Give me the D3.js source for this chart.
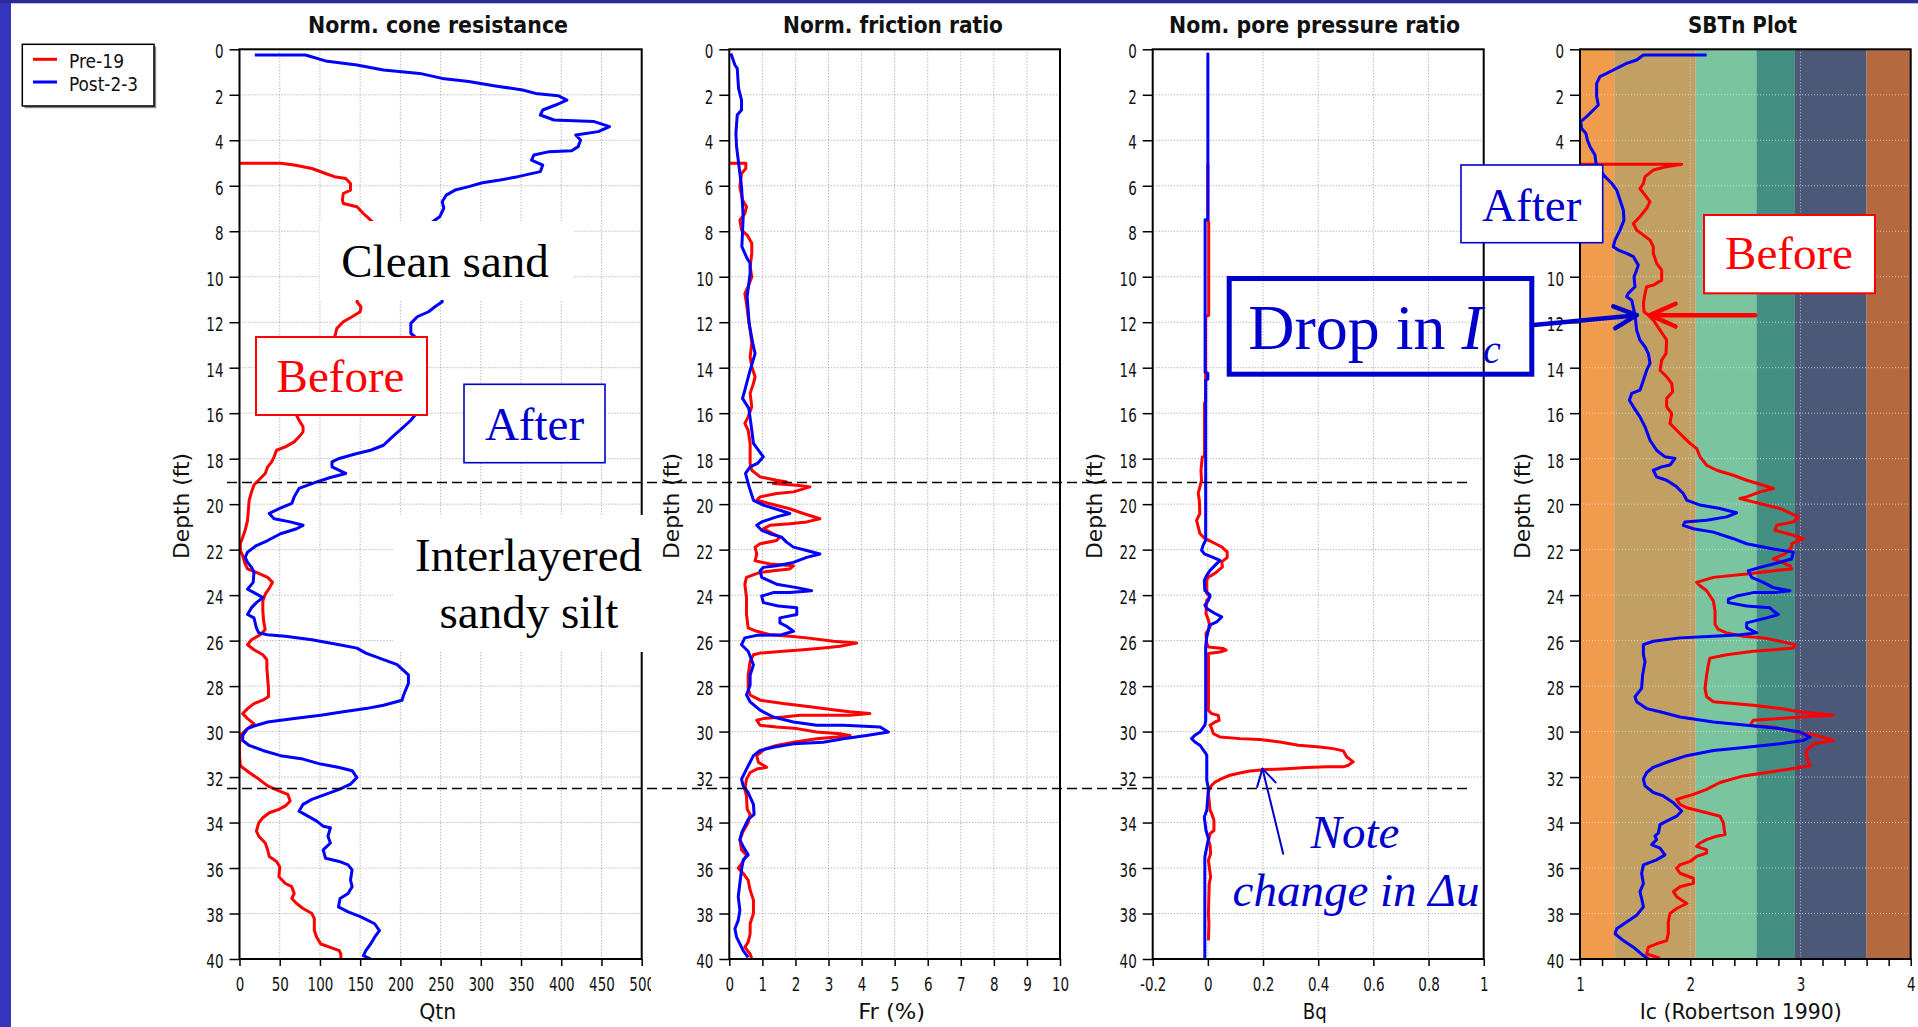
<!DOCTYPE html>
<html>
<head>
<meta charset="utf-8">
<script src="https://cdn.jsdelivr.net/npm/d3@7"></script>
<style>
  html, body { margin: 0; padding: 0; background: #ffffff; overflow: hidden; }
  svg { display: block; }
</style>
</head>
<body>
<svg id="chart" width="1918" height="1027"></svg>
<script>
// ---------------------------------------------------------------
// CPT profiles before (Pre-19) and after (Post-2-3) treatment.
// Each series is a list of [depth (ft), value] pairs.
// ---------------------------------------------------------------
const seriesNames = ["Pre-19", "Post-2-3"];

const depthTicks = [0, 2, 4, 6, 8, 10, 12, 14, 16, 18, 20, 22, 24, 26, 28, 30, 32, 34, 36, 38, 40];
const qtnTicks = [0, 50, 100, 150, 200, 250, 300, 350, 400, 450, 500];
const frTicks = [0, 1, 2, 3, 4, 5, 6, 7, 8, 9, 10];
const bqTicks = [-0.2, 0, 0.2, 0.4, 0.6, 0.8, 1];
const icTicks = [1, 2, 3, 4];
const icMinorTicks = [1.2, 1.4, 1.6, 1.8, 2.2, 2.4, 2.6, 2.8, 3.2, 3.4, 3.6, 3.8];

// Soil behaviour type zone limits on the Ic axis
const sbtBounds = [1, 1.31, 2.05, 2.60, 2.95, 3.60, 4];

// Depths of the layer boundaries marked across the profiles
const layerDepths = [19.05, 32.5];

// Normalized cone resistance Qtn
const qtnPre = [[5.01,0],[5.01,51],[5.09,68],[5.24,90],[5.46,107],[5.60,118],[5.68,132],[5.90,138],[6.19,138],[6.34,129],[6.63,128],[6.78,129],[6.92,146],[7.22,154],[7.51,163],[7.58,165],
  [11.10,146],[11.32,151],[11.54,150],[11.76,140],[11.98,129],[12.27,121],[12.57,119],
  [16.09,71],[16.31,74],[16.60,79],[16.82,79],[17.04,74],[17.26,68],[17.48,57],[17.63,46],[17.92,43],[18.14,40],[18.36,35],[18.65,32],[18.94,24],[19.16,18],[19.46,15],[19.83,12],[20.27,11],[20.71,10],[21.15,7],[21.45,4],[21.74,1],[22.04,1],[22.26,4],[22.63,7],[22.85,10],[23.00,21],[23.22,35],[23.44,41],[23.70,37],[23.96,32],[24.26,29],[24.70,29],[25.15,30],[25.51,32],[25.74,26],[25.96,15],[26.18,10],[26.40,18],[26.62,29],[26.84,34],[27.21,34],[27.66,35],[28.10,36],[28.47,36],[28.62,29],[28.77,18],[28.99,10],[29.21,4],[29.43,10],[29.65,18],[29.87,10],[30.17,1],[30.61,0],[31.06,0],[31.50,1],[31.80,12],[32.09,24],[32.39,35],[32.61,49],[32.76,60],[33.05,63],[33.27,57],[33.42,49],[33.57,37],[33.79,29],[34.01,24],[34.38,21],[34.60,24],[34.90,32],[35.20,35],[35.49,37],[35.71,46],[35.94,50],[36.38,49],[36.68,57],[36.82,65],[37.12,68],[37.34,65],[37.56,71],[37.78,79],[38.00,90],[38.23,93],[38.75,93],[39.04,96],[39.34,101],[39.49,113],[39.63,124],[39.78,126],[40.0,126]];

const qtnPost = [[0.25,19],[0.25,82],[0.51,107],[0.69,146],[0.91,179],[1.06,224],[1.28,252],[1.42,285],[1.61,318],[1.79,352],[1.94,368],[2.04,396],[2.23,407],[2.45,393],[2.67,377],[2.89,374],[3.11,391],[3.18,441],[3.40,460],[3.62,446],[3.77,418],[3.99,424],[4.28,421],[4.46,413],[4.50,385],[4.65,366],[4.87,363],[5.09,377],[5.38,374],[5.60,346],[5.75,324],[5.87,302],[6.04,285],[6.19,268],[6.41,257],[6.70,252],[6.99,254],[7.36,249],[7.58,240],
  [11.10,252],[11.32,243],[11.54,235],[11.76,221],[12.05,213],[12.49,213],[12.64,218],
  [16.09,218],[16.31,213],[16.67,202],[17.04,190],[17.41,179],[17.63,163],[17.77,146],[17.99,124],[18.14,115],[18.36,115],[18.65,132],[18.83,113],[19.02,96],[19.31,74],[19.68,68],[19.97,65],[20.19,50],[20.41,37],[20.64,43],[20.78,63],[20.93,79],[21.08,71],[21.30,51],[21.60,35],[21.82,21],[22.11,10],[22.34,7],[22.56,10],[22.78,15],[23.00,18],[23.44,17],[23.74,10],[23.89,18],[24.11,29],[24.33,21],[24.55,15],[24.85,10],[25.00,18],[25.44,21],[25.66,24],[25.74,35],[25.81,57],[25.96,90],[26.18,124],[26.33,146],[26.55,157],[26.84,179],[27.06,196],[27.51,210],[27.88,210],[28.39,204],[28.62,202],[28.84,179],[28.99,157],[29.13,129],[29.28,101],[29.43,68],[29.58,35],[29.76,18],[29.87,10],[30.17,4],[30.39,4],[30.61,12],[30.83,29],[31.06,51],[31.21,79],[31.43,101],[31.58,124],[31.72,140],[32.02,146],[32.31,138],[32.54,124],[32.76,107],[32.98,90],[33.20,79],[33.50,74],[33.72,85],[33.94,96],[34.16,104],[34.23,113],[34.60,110],[34.90,113],[35.20,104],[35.57,107],[35.71,124],[35.86,135],[36.08,140],[36.53,138],[36.82,140],[37.12,135],[37.34,125],[37.71,123],[37.93,135],[38.15,151],[38.45,168],[38.75,174],[39.04,168],[39.34,163],[39.63,157],[39.85,154],[40.0,163]];

// Normalized friction ratio Fr (%)
const frPre = [[5.01,0.02],[5.01,0.50],[5.24,0.50],[5.46,0.37],[6.04,0.32],[6.63,0.40],[6.92,0.52],[7.22,0.47],[7.51,0.32],[7.95,0.37],[8.17,0.54],[8.53,0.68],[8.98,0.68],[9.56,0.63],[10.00,0.68],[10.44,0.57],[10.74,0.47],[11.17,0.52],[11.76,0.57],[12.35,0.63],[12.93,0.68],[13.52,0.63],[13.96,0.68],[14.40,0.78],[14.69,0.73],[15.13,0.63],[15.72,0.68],[16.16,0.57],[16.45,0.47],[16.75,0.57],[17.33,0.63],[18.21,0.63],[18.51,0.68],[18.80,0.93],[18.95,1.43],[19.02,1.73],[19.09,1.33],[19.17,2.04],[19.24,2.44],[19.46,1.94],[19.53,1.43],[19.68,0.93],[19.83,0.83],[19.97,1.2],[20.19,1.8],[20.41,2.24],[20.64,2.74],[20.78,2.34],[20.86,1.83],[20.93,1.23],[21.08,1.03],[21.30,1.33],[21.45,1.53],[21.60,1.43],[21.74,0.93],[21.89,0.78],[22.19,0.83],[22.49,0.78],[22.63,1.23],[22.71,1.94],[22.85,1.83],[22.93,1.33],[23.00,0.93],[23.22,0.52],[23.52,0.47],[24.11,0.52],[24.85,0.52],[25.44,0.57],[25.59,0.83],[25.74,1.23],[25.81,1.83],[25.88,2.34],[26.03,3.15],[26.11,3.85],[26.25,3.35],[26.33,2.84],[26.40,2.24],[26.47,1.63],[26.55,0.93],[26.62,0.73],[26.92,0.63],[27.51,0.57],[28.10,0.57],[28.39,0.63],[28.62,0.93],[28.77,1.63],[28.91,2.44],[29.06,3.25],[29.13,3.65],[29.21,4.25],[29.28,3.65],[29.28,2.14],[29.36,1.63],[29.43,1.03],[29.50,0.83],[29.72,0.93],[29.80,1.43],[29.87,2.04],[30.02,2.64],[30.10,3.35],[30.17,3.65],[30.24,3.25],[30.32,2.64],[30.47,1.94],[30.61,1.43],[30.76,1.08],[31.06,0.83],[31.35,0.88],[31.57,1.13],[31.65,0.83],[31.80,0.63],[32.09,0.52],[32.54,0.47],[32.83,0.52],[33.42,0.54],[33.64,0.63],[34.01,0.57],[34.38,0.42],[34.76,0.32],[35.20,0.37],[35.42,0.52],[35.71,0.42],[36.01,0.27],[36.23,0.42],[36.53,0.57],[36.97,0.63],[37.41,0.73],[38.00,0.73],[38.45,0.63],[38.89,0.63],[39.26,0.57],[39.48,0.47],[39.78,0.63],[40.0,0.68]];

const frPost = [[0.18,0.05],[0.69,0.17],[0.84,0.24],[1.72,0.28],[2.23,0.37],[2.67,0.37],[2.89,0.24],[3.70,0.20],[4.28,0.22],[4.87,0.27],[6.04,0.37],[7.36,0.42],[8.68,0.38],[9.20,0.54],[9.41,0.63],[9.85,0.63],[10.88,0.54],[12.06,0.60],[12.93,0.71],[13.38,0.78],[14.11,0.63],[14.99,0.47],[15.35,0.40],[15.79,0.59],[16.75,0.68],[17.33,0.73],[17.92,1.03],[18.21,0.85],[18.36,0.63],[18.65,0.49],[19.24,0.60],[19.83,0.73],[20.04,1.03],[20.27,1.53],[20.41,1.83],[20.56,1.43],[20.78,0.98],[20.93,0.83],[21.15,0.98],[21.30,1.23],[21.45,1.58],[21.67,1.73],[21.89,1.94],[22.04,2.34],[22.19,2.74],[22.34,2.34],[22.56,1.94],[22.71,1.43],[22.78,1.03],[22.93,0.93],[23.22,0.98],[23.52,1.43],[23.67,2.04],[23.81,2.49],[23.89,1.83],[23.89,1.33],[24.04,0.98],[24.33,1.03],[24.48,1.48],[24.56,2.04],[24.85,2.04],[25.00,1.53],[25.22,1.53],[25.37,1.73],[25.59,1.94],[25.74,1.58],[25.77,0.83],[25.88,0.47],[26.18,0.37],[26.47,0.57],[27.06,0.73],[27.51,0.63],[27.95,0.63],[28.39,0.52],[28.69,0.63],[29.06,0.93],[29.36,1.33],[29.58,1.94],[29.72,2.64],[29.72,3.45],[29.80,4.56],[30.02,4.81],[30.17,4.15],[30.32,3.45],[30.47,2.84],[30.54,1.94],[30.69,1.33],[30.83,0.93],[31.06,0.73],[31.65,0.52],[32.09,0.37],[32.39,0.42],[32.68,0.57],[33.20,0.73],[33.64,0.75],[33.86,0.57],[34.46,0.37],[34.76,0.32],[35.05,0.42],[35.42,0.57],[35.64,0.42],[36.08,0.37],[36.67,0.32],[37.26,0.27],[37.86,0.32],[38.30,0.27],[38.67,0.17],[39.04,0.22],[39.63,0.42],[39.93,0.57]];

// Normalized pore pressure ratio Bq
const bqPre = [[5.0,0.0],[7.55,0.0],[7.6,0.003],[11.7,0.003],[11.75,-0.008],[15.5,-0.008],[15.55,-0.012],[17.9,-0.012],[17.92,-0.02],[18.5,-0.025],[18.95,-0.023],[19.24,-0.029],[19.53,-0.035],[19.83,-0.031],[20.41,-0.029],[20.71,-0.041],[21.0,-0.035],[21.29,-0.029],[21.51,-0.011],[21.58,0.002],[21.73,0.026],[21.88,0.050],[22.10,0.070],[22.35,0.070],[22.54,0.050],[22.76,0.053],[22.98,0.032],[23.13,0.014],[23.20,0.002],[23.35,-0.004],[23.93,-0.004],[24.08,0.008],[24.23,-0.004],[24.81,-0.007],[25.10,0.002],[25.40,0.008],[25.69,-0.007],[26.13,-0.004],[26.28,0.002],[26.35,0.056],[26.42,0.066],[26.50,0.044],[26.57,0.002],[29.07,0.002],[29.21,0.014],[29.29,0.038],[29.51,0.041],[29.58,0.026],[29.72,0.008],[29.87,0.014],[30.09,0.020],[30.24,0.044],[30.31,0.116],[30.35,0.189],[30.46,0.261],[30.60,0.328],[30.68,0.406],[30.75,0.454],[30.85,0.491],[31.11,0.503],[31.33,0.527],[31.48,0.509],[31.55,0.491],[31.55,0.430],[31.58,0.358],[31.63,0.285],[31.67,0.213],[31.73,0.153],[31.82,0.116],[31.92,0.080],[32.07,0.050],[32.22,0.026],[32.36,0.014],[32.51,0.005],[32.73,0.002],[33.46,0.008],[33.61,0.014],[33.90,0.022],[34.35,0.022],[34.49,0.008],[34.78,0.002],[35.0,0.008],[35.37,0.010],[35.66,0.002],[36.39,0.010],[36.69,0.005],[38.01,0.002],[38.45,0.004],[39.18,0.002]];

const bqPost = [[0.15,0.0],[7.5,0.0],[7.5,-0.01],[14.2,-0.01],[14.25,0.0],[14.5,0.0],[14.55,-0.008],[21.59,-0.008],[21.80,-0.017],[22.03,-0.023],[22.20,-0.011],[22.32,0.014],[22.47,0.044],[22.69,0.026],[22.91,0.008],[23.13,-0.004],[23.35,-0.013],[23.79,-0.011],[24.00,0.008],[24.23,0.002],[24.44,-0.011],[24.59,-0.004],[24.81,0.026],[24.96,0.050],[25.18,0.032],[25.33,0.005],[25.55,0.002],[25.84,-0.004],[26.28,-0.008],[29.51,-0.008],[29.72,-0.011],[30.02,-0.029],[30.16,-0.047],[30.31,-0.059],[30.46,-0.047],[30.60,-0.029],[30.90,-0.011],[31.04,-0.004],[32.14,-0.004],[32.51,0.002],[33.46,-0.004],[33.76,-0.013],[34.34,-0.007],[34.71,0.002],[35.08,-0.004],[35.51,-0.011],[39.99,-0.011]];

// Soil behaviour type index Ic (Robertson 1990)
const icPre = [[5.05,1.0],[5.05,1.922],[5.16,1.786],[5.31,1.665],[5.60,1.590],[5.90,1.575],[6.12,1.544],[6.41,1.590],[6.70,1.635],[6.99,1.605],[7.36,1.544],[7.66,1.484],[7.95,1.514],[8.17,1.575],[8.39,1.635],[8.68,1.665],[8.98,1.665],[9.41,1.696],[9.71,1.741],[10.15,1.741],[10.37,1.665],[10.44,1.605],[10.73,1.590],[11.17,1.575],[11.54,1.581],[11.69,1.620],[11.91,1.665],[12.35,1.726],[12.79,1.786],[13.37,1.780],[13.67,1.741],[14.11,1.726],[14.40,1.786],[14.69,1.832],[15.06,1.841],[15.35,1.786],[15.72,1.786],[16.01,1.832],[16.45,1.816],[16.75,1.877],[17.04,1.937],[17.33,1.998],[17.55,2.058],[17.92,2.089],[18.29,2.149],[18.51,2.240],[18.73,2.391],[18.95,2.512],[19.17,2.663],[19.31,2.754],[19.46,2.633],[19.68,2.512],[19.75,2.451],[19.90,2.572],[20.05,2.693],[20.19,2.814],[20.56,2.981],[20.78,2.935],[20.93,2.784],[21.15,2.769],[21.37,2.935],[21.52,3.026],[21.74,2.920],[21.89,2.920],[22.19,2.860],[22.41,2.754],[22.71,2.905],[22.85,2.920],[22.93,2.754],[23.07,2.512],[23.22,2.210],[23.44,2.058],[23.59,2.089],[23.81,2.149],[24.26,2.210],[24.70,2.225],[25.29,2.225],[25.51,2.255],[25.66,2.330],[25.81,2.482],[25.88,2.663],[26.03,2.814],[26.18,2.950],[26.33,2.935],[26.40,2.754],[26.47,2.572],[26.62,2.330],[26.77,2.179],[27.07,2.164],[27.51,2.149],[28.10,2.134],[28.47,2.149],[28.69,2.210],[28.77,2.391],[28.84,2.572],[28.99,2.814],[29.13,2.996],[29.28,3.298],[29.36,2.996],[29.43,2.814],[29.50,2.572],[29.73,2.542],[29.80,2.754],[30.02,2.966],[30.17,3.147],[30.39,3.298],[30.54,3.117],[30.84,3.056],[31.13,3.056],[31.50,3.087],[31.65,2.905],[31.80,2.693],[31.95,2.482],[32.24,2.270],[32.54,2.149],[32.76,2.028],[32.98,1.877],[33.20,1.907],[33.35,1.968],[33.57,2.149],[33.72,2.270],[34.01,2.300],[34.53,2.315],[34.60,2.240],[34.75,2.149],[34.90,2.089],[35.05,2.058],[35.20,2.149],[35.34,2.149],[35.49,2.058],[35.71,1.998],[35.86,1.907],[36.01,1.877],[36.23,1.907],[36.45,2.028],[36.67,2.028],[36.82,1.907],[37.04,1.847],[37.26,1.877],[37.56,1.968],[37.78,1.877],[38.00,1.816],[38.37,1.801],[38.89,1.801],[39.19,1.786],[39.33,1.695],[39.48,1.620],[39.78,1.605],[39.96,1.726]];

const icPost = [[0.25,2.149],[0.25,1.575],[0.47,1.514],[0.62,1.423],[0.76,1.363],[0.91,1.302],[1.06,1.242],[1.20,1.181],[1.50,1.151],[2.08,1.151],[2.45,1.166],[2.67,1.121],[2.96,1.060],[3.18,1.006],[3.48,1.015],[3.70,1.054],[3.99,1.067],[4.28,1.091],[4.65,1.136],[5.02,1.145],[5.31,1.181],[5.60,1.227],[5.89,1.287],[6.19,1.333],[6.63,1.363],[7.07,1.393],[7.51,1.399],[7.95,1.363],[8.39,1.318],[8.68,1.302],[8.83,1.348],[8.97,1.423],[9.12,1.484],[9.49,1.529],[9.71,1.514],[10.00,1.490],[10.44,1.499],[10.73,1.438],[10.88,1.423],[11.03,1.469],[11.69,1.499],[12.35,1.514],[12.79,1.544],[13.08,1.590],[13.38,1.620],[13.81,1.635],[14.11,1.605],[14.55,1.575],[14.99,1.544],[15.13,1.469],[15.43,1.448],[15.72,1.484],[16.16,1.544],[16.60,1.590],[17.19,1.635],[17.63,1.695],[17.92,1.771],[17.99,1.862],[18.28,1.816],[18.36,1.741],[18.51,1.665],[18.80,1.695],[18.95,1.786],[19.24,1.877],[19.53,1.937],[19.82,1.968],[20.04,2.089],[20.19,2.270],[20.38,2.421],[20.56,2.330],[20.71,2.149],[20.78,1.953],[20.93,1.937],[21.08,2.028],[21.23,2.210],[21.52,2.391],[21.74,2.512],[21.97,2.754],[22.11,2.935],[22.41,2.920],[22.63,2.754],[22.78,2.633],[22.93,2.527],[23.22,2.557],[23.44,2.663],[23.67,2.754],[23.81,2.905],[23.89,2.754],[23.89,2.572],[24.04,2.421],[24.18,2.346],[24.33,2.346],[24.48,2.512],[24.56,2.724],[24.70,2.754],[24.85,2.799],[25.00,2.693],[25.22,2.512],[25.44,2.512],[25.66,2.603],[25.74,2.451],[25.81,2.210],[25.88,1.907],[26.03,1.665],[26.18,1.575],[26.62,1.575],[26.92,1.590],[27.51,1.568],[28.10,1.559],[28.47,1.499],[28.69,1.514],[28.99,1.605],[29.13,1.726],[29.36,1.907],[29.58,2.210],[29.72,2.512],[29.87,2.814],[30.02,2.996],[30.24,3.087],[30.39,3.026],[30.54,2.814],[30.69,2.512],[30.83,2.210],[31.06,1.968],[31.35,1.786],[31.57,1.665],[31.80,1.605],[32.09,1.575],[32.39,1.590],[32.68,1.665],[32.83,1.756],[33.13,1.847],[33.49,1.922],[33.72,1.877],[33.94,1.786],[34.09,1.726],[34.46,1.711],[34.60,1.680],[34.75,1.695],[34.97,1.650],[35.12,1.726],[35.42,1.771],[35.64,1.695],[35.86,1.575],[36.23,1.559],[36.68,1.575],[37.04,1.544],[37.34,1.559],[37.71,1.575],[38.08,1.514],[38.37,1.423],[38.67,1.333],[38.89,1.318],[39.19,1.393],[39.48,1.484],[39.85,1.575],[40.0,1.620]];

// ---------------------------------------------------------------
// Styles and layout
// ---------------------------------------------------------------
const SANS = "'DejaVu Sans Condensed', 'DejaVu Sans', 'Liberation Sans', sans-serif";
const SERIF = "'Liberation Serif', 'Times New Roman', serif";
const PRE_COLOR = "#ff0000";
const POST_COLOR = "#0000ff";
const NOTE_BLUE = "#0000cc";
const SY = 1.35;                         // vertical stretch of the plot lettering
const sbtColors = ["#f09c4c", "#c2a064", "#7ac4a0", "#438f81", "#4b5878", "#b5693e"];

const Y0 = 49.3, Y1 = 959;
const y = d3.scaleLinear().domain([0, 40]).range([Y0, Y1]);

const svg = d3.select("#chart");
const defs = svg.append("defs");

// slide backdrop: blue strips on the left and top edges
svg.append("rect").attr("x", 0).attr("y", 0).attr("width", 1918).attr("height", 1027).attr("fill", "#ffffff");
svg.append("rect").attr("x", 0).attr("y", 0).attr("width", 11).attr("height", 1027).attr("fill", "#3434bc");
svg.append("rect").attr("x", 0).attr("y", 0).attr("width", 1918).attr("height", 3.3).attr("fill", "#2c2c96");

function label(parent, x, yPos, str, o) {
  const t = parent.append("text")
    .attr("transform", `translate(${x},${yPos})${o.rotate ? ` rotate(${o.rotate})` : ""} scale(${o.sx || 1},${o.sy || 1})`)
    .attr("text-anchor", o.anchor || "middle")
    .attr("fill", o.fill || "#111")
    .style("font-family", o.font || SANS)
    .style("font-size", o.size + "px")
    .style("font-weight", o.weight || "normal")
    .style("font-style", o.italic ? "italic" : "normal");
  if (o.font !== SERIF) t.style("font-stretch", "condensed");
  if (o.len) t.attr("textLength", o.len / (o.sx || 1)).attr("lengthAdjust", "spacingAndGlyphs");
  t.text(str);
  return t;
}

const fmtPlain = v => String(v);

const panels = [
  { id: "qtn", title: "Norm. cone resistance", titleCx: 438, titleW: 260,
    xLabel: "Qtn", xLabelCx: 437.7, xLabelW: 37,
    domain: [0, 500], x0: 239.5, x1: 641.7, ticks: qtnTicks, grid: qtnTicks.slice(1, -1),
    pre: qtnPre, post: qtnPost, axisClip: 651 },
  { id: "fr", title: "Norm. friction ratio", titleCx: 893, titleW: 220,
    xLabel: "Fr (%)", xLabelCx: 891.7, xLabelW: 67,
    domain: [0, 10], x0: 729.3, x1: 1060, ticks: frTicks, grid: frTicks.slice(1, -1),
    pre: frPre, post: frPost },
  { id: "bq", title: "Nom. pore pressure ratio", titleCx: 1314.5, titleW: 291,
    xLabel: "Bq", xLabelCx: 1314.7, xLabelW: 24,
    domain: [-0.2, 1], x0: 1152.7, x1: 1483.7, ticks: bqTicks, grid: bqTicks.slice(1, -1),
    pre: bqPre, post: bqPost },
  { id: "ic", title: "SBTn Plot", titleCx: 1742.5, titleW: 109,
    xLabel: "Ic (Robertson 1990)", xLabelCx: 1740.8, xLabelW: 202,
    domain: [1, 4], x0: 1580, x1: 1910.7, ticks: icTicks, minor: icMinorTicks, grid: [2, 3],
    pre: icPre, post: icPost, zones: true }
];

const scales = {};

panels.forEach(p => {
  const x = d3.scaleLinear().domain(p.domain).range([p.x0, p.x1]);
  scales[p.id] = x;
  const g = svg.append("g").attr("class", "panel-" + p.id);

  // plot background
  if (p.zones) {
    g.selectAll("rect.zone").data(sbtColors).join("rect")
      .attr("class", "zone")
      .attr("x", (c, i) => x(sbtBounds[i]))
      .attr("width", (c, i) => x(sbtBounds[i + 1]) - x(sbtBounds[i]))
      .attr("y", Y0).attr("height", Y1 - Y0)
      .attr("fill", c => c);
  } else {
    g.append("rect").attr("x", p.x0).attr("y", Y0).attr("width", p.x1 - p.x0).attr("height", Y1 - Y0).attr("fill", "#fff");
  }

  // dotted grid
  const gridColor = p.zones ? "rgba(225,225,225,0.75)" : "#9a9a9a";
  g.append("g").selectAll("line").data(depthTicks.slice(1, -1)).join("line")
    .attr("x1", p.x0).attr("x2", p.x1).attr("y1", d => y(d)).attr("y2", d => y(d))
    .attr("stroke", gridColor).attr("stroke-width", 1).attr("stroke-dasharray", "1,2");
  g.append("g").selectAll("line").data(p.grid).join("line")
    .attr("x1", d => x(d)).attr("x2", d => x(d)).attr("y1", Y0).attr("y2", Y1)
    .attr("stroke", gridColor).attr("stroke-width", 1).attr("stroke-dasharray", "1,2");

  // profiles
  defs.append("clipPath").attr("id", "clip-" + p.id)
    .append("rect").attr("x", p.x0).attr("y", Y0).attr("width", p.x1 - p.x0).attr("height", Y1 - Y0);
  const line = d3.line().x(d => x(d[1])).y(d => y(d[0]));
  const curves = g.append("g").attr("clip-path", `url(#clip-${p.id})`);
  [[p.pre, PRE_COLOR], [p.post, POST_COLOR]].forEach(([data, color]) => {
    curves.append("path").datum(data).attr("d", line)
      .attr("fill", "none").attr("stroke", color).attr("stroke-width", 3)
      .attr("stroke-linejoin", "round").attr("stroke-linecap", "butt");
  });

  // frame
  g.append("rect").attr("x", p.x0).attr("y", Y0).attr("width", p.x1 - p.x0).attr("height", Y1 - Y0)
    .attr("fill", "none").attr("stroke", "#000").attr("stroke-width", 2);

  // depth axis
  const ga = g.append("g").attr("transform", `translate(${p.x0},0)`)
    .call(d3.axisLeft(y).tickValues(depthTicks).tickSize(10).tickPadding(6).tickFormat(fmtPlain));
  ga.select(".domain").remove();
  ga.selectAll(".tick line").attr("stroke", "#000").attr("stroke-width", 1.5);
  ga.selectAll(".tick text")
    .attr("fill", "#111").attr("dy", null).attr("y", 8.4 / SY).attr("transform", `scale(1,${SY})`)
    .style("font-family", SANS).style("font-size", "15px").style("font-stretch", "condensed");

  // value axis
  let axisHolder = g;
  if (p.axisClip) {
    defs.append("clipPath").attr("id", "axclip-" + p.id)
      .append("rect").attr("x", 0).attr("y", 0).attr("width", p.axisClip).attr("height", 1027);
    axisHolder = g.append("g").attr("clip-path", `url(#axclip-${p.id})`);
  }
  const gb = axisHolder.append("g").attr("transform", `translate(0,${Y1})`)
    .call(d3.axisBottom(x).tickValues(p.ticks).tickSize(7).tickFormat(fmtPlain));
  gb.select(".domain").remove();
  gb.selectAll(".tick line").attr("stroke", "#000").attr("stroke-width", 1.5);
  gb.selectAll(".tick text")
    .attr("fill", "#111").attr("dy", 0).attr("y", 32.5 / SY).attr("transform", `scale(1,${SY})`)
    .style("font-family", SANS).style("font-size", "15px").style("font-stretch", "condensed");
  if (p.minor) {
    const gm = g.append("g").attr("transform", `translate(0,${Y1})`)
      .call(d3.axisBottom(x).tickValues(p.minor).tickSize(7).tickFormat(""));
    gm.select(".domain").remove();
    gm.selectAll(".tick line").attr("stroke", "#000").attr("stroke-width", 1.5);
  }

  // titles
  label(g, p.titleCx, 33.3, p.title, { size: 17, weight: "bold", sy: SY, len: p.titleW });
  label(g, p.xLabelCx, 1019, p.xLabel, { size: 22, len: p.xLabelW });
  label(g, p.x0 - 50.5, 506, "Depth (ft)", { size: 22, rotate: -90, len: 106 });
});

// ---------------------------------------------------------------
// Legend
// ---------------------------------------------------------------
const leg = svg.append("g").attr("class", "legend");
leg.append("rect").attr("x", 24.5).attr("y", 46.5).attr("width", 131.7).attr("height", 61.7).attr("fill", "#8a8a8a");
leg.append("rect").attr("x", 22.3).attr("y", 44.3).attr("width", 131.7).attr("height", 61.7)
  .attr("fill", "#fff").attr("stroke", "#000").attr("stroke-width", 1.5);
[[seriesNames[0], PRE_COLOR, 59.3, 68.3, 55], [seriesNames[1], POST_COLOR, 82, 91.3, 69]].forEach(([name, color, ly, by, w]) => {
  leg.append("line").attr("x1", 33).attr("x2", 57).attr("y1", ly).attr("y2", ly)
    .attr("stroke", color).attr("stroke-width", 3);
  label(leg, 69, by, name, { size: 19, anchor: "start", len: w });
});

// ---------------------------------------------------------------
// Layer boundaries and annotations
// ---------------------------------------------------------------
const notes = svg.append("g").attr("class", "annotations");

notes.selectAll("line.layer").data(layerDepths).join("line")
  .attr("class", "layer")
  .attr("x1", 227).attr("x2", 1471)
  .attr("y1", d => y(d)).attr("y2", d => y(d))
  .attr("stroke", "#000").attr("stroke-width", 1.5).attr("stroke-dasharray", "10,5");

function box(x0, y0, x1, y1, stroke, sw, fill) {
  notes.append("rect").attr("x", x0).attr("y", y0).attr("width", x1 - x0).attr("height", y1 - y0)
    .attr("fill", fill).attr("stroke", stroke || "none").attr("stroke-width", sw || 0);
}

function arrow(tail, tip, color, width, headLen, headAngle) {
  notes.append("line").attr("x1", tail[0]).attr("y1", tail[1]).attr("x2", tip[0]).attr("y2", tip[1])
    .attr("stroke", color).attr("stroke-width", width).attr("stroke-linecap", "round");
  const back = Math.atan2(tail[1] - tip[1], tail[0] - tip[0]);
  const a = headAngle * Math.PI / 180;
  const pts = [back - a, back + a].map(t => [tip[0] + headLen * Math.cos(t), tip[1] + headLen * Math.sin(t)]);
  notes.append("path")
    .attr("d", `M${pts[0][0]},${pts[0][1]}L${tip[0]},${tip[1]}L${pts[1][0]},${pts[1][1]}`)
    .attr("fill", "none").attr("stroke", color).attr("stroke-width", width)
    .attr("stroke-linecap", "round").attr("stroke-linejoin", "round");
}

// cone resistance panel
box(320, 221, 573, 300, null, 0, "#fff");
label(notes, 445, 277, "Clean sand", { font: SERIF, size: 47, fill: "#000" });
box(393, 515, 645, 652, null, 0, "#fff");
label(notes, 528.5, 570.5, "Interlayered", { font: SERIF, size: 47, fill: "#000" });
label(notes, 529, 627.5, "sandy silt", { font: SERIF, size: 47, fill: "#000" });
box(256, 337, 427, 415, PRE_COLOR, 2, "#fff");
label(notes, 340.5, 391.7, "Before", { font: SERIF, size: 47, fill: PRE_COLOR });
box(464, 384.3, 605, 462.7, NOTE_BLUE, 1.6, "#fff");
label(notes, 534.5, 440, "After", { font: SERIF, size: 47, fill: NOTE_BLUE });

// pore pressure panel
const xBq = scales.bq;
arrow([xBq(0.273), y(35.37)], [xBq(0.198), y(31.63)], NOTE_BLUE, 2, 19, 30);
label(notes, 1355, 848.3, "Note", { font: SERIF, size: 47, italic: true, fill: NOTE_BLUE });
label(notes, 1356, 906, "change in \u0394u", { font: SERIF, size: 47, italic: true, fill: NOTE_BLUE });

// SBTn panel
const xIc = scales.ic;
box(1461, 165, 1602.7, 242.7, NOTE_BLUE, 1.6, "#fff");
label(notes, 1531.7, 221, "After", { font: SERIF, size: 47, fill: NOTE_BLUE });
box(1704, 215, 1875, 293.3, PRE_COLOR, 2, "#fff");
label(notes, 1789, 269, "Before", { font: SERIF, size: 47, fill: PRE_COLOR });

box(1229.2, 278.5, 1531.8, 374.2, NOTE_BLUE, 5, "none");
const drop = notes.append("text").attr("x", 1248.3).attr("y", 349)
  .attr("fill", NOTE_BLUE).style("font-family", SERIF).style("font-size", "64px");
drop.append("tspan").text("Drop in ");
drop.append("tspan").style("font-style", "italic").text("I");
drop.append("tspan").style("font-style", "italic").style("font-size", "40px").attr("dy", 14).text("c");

arrow([1533.5, 325], [xIc(1.514), y(11.69)], NOTE_BLUE, 4.5, 25, 26);
arrow([1755, y(11.69)], [xIc(1.635), y(11.69)], PRE_COLOR, 4.5, 28, 24);
</script>
</body>
</html>
